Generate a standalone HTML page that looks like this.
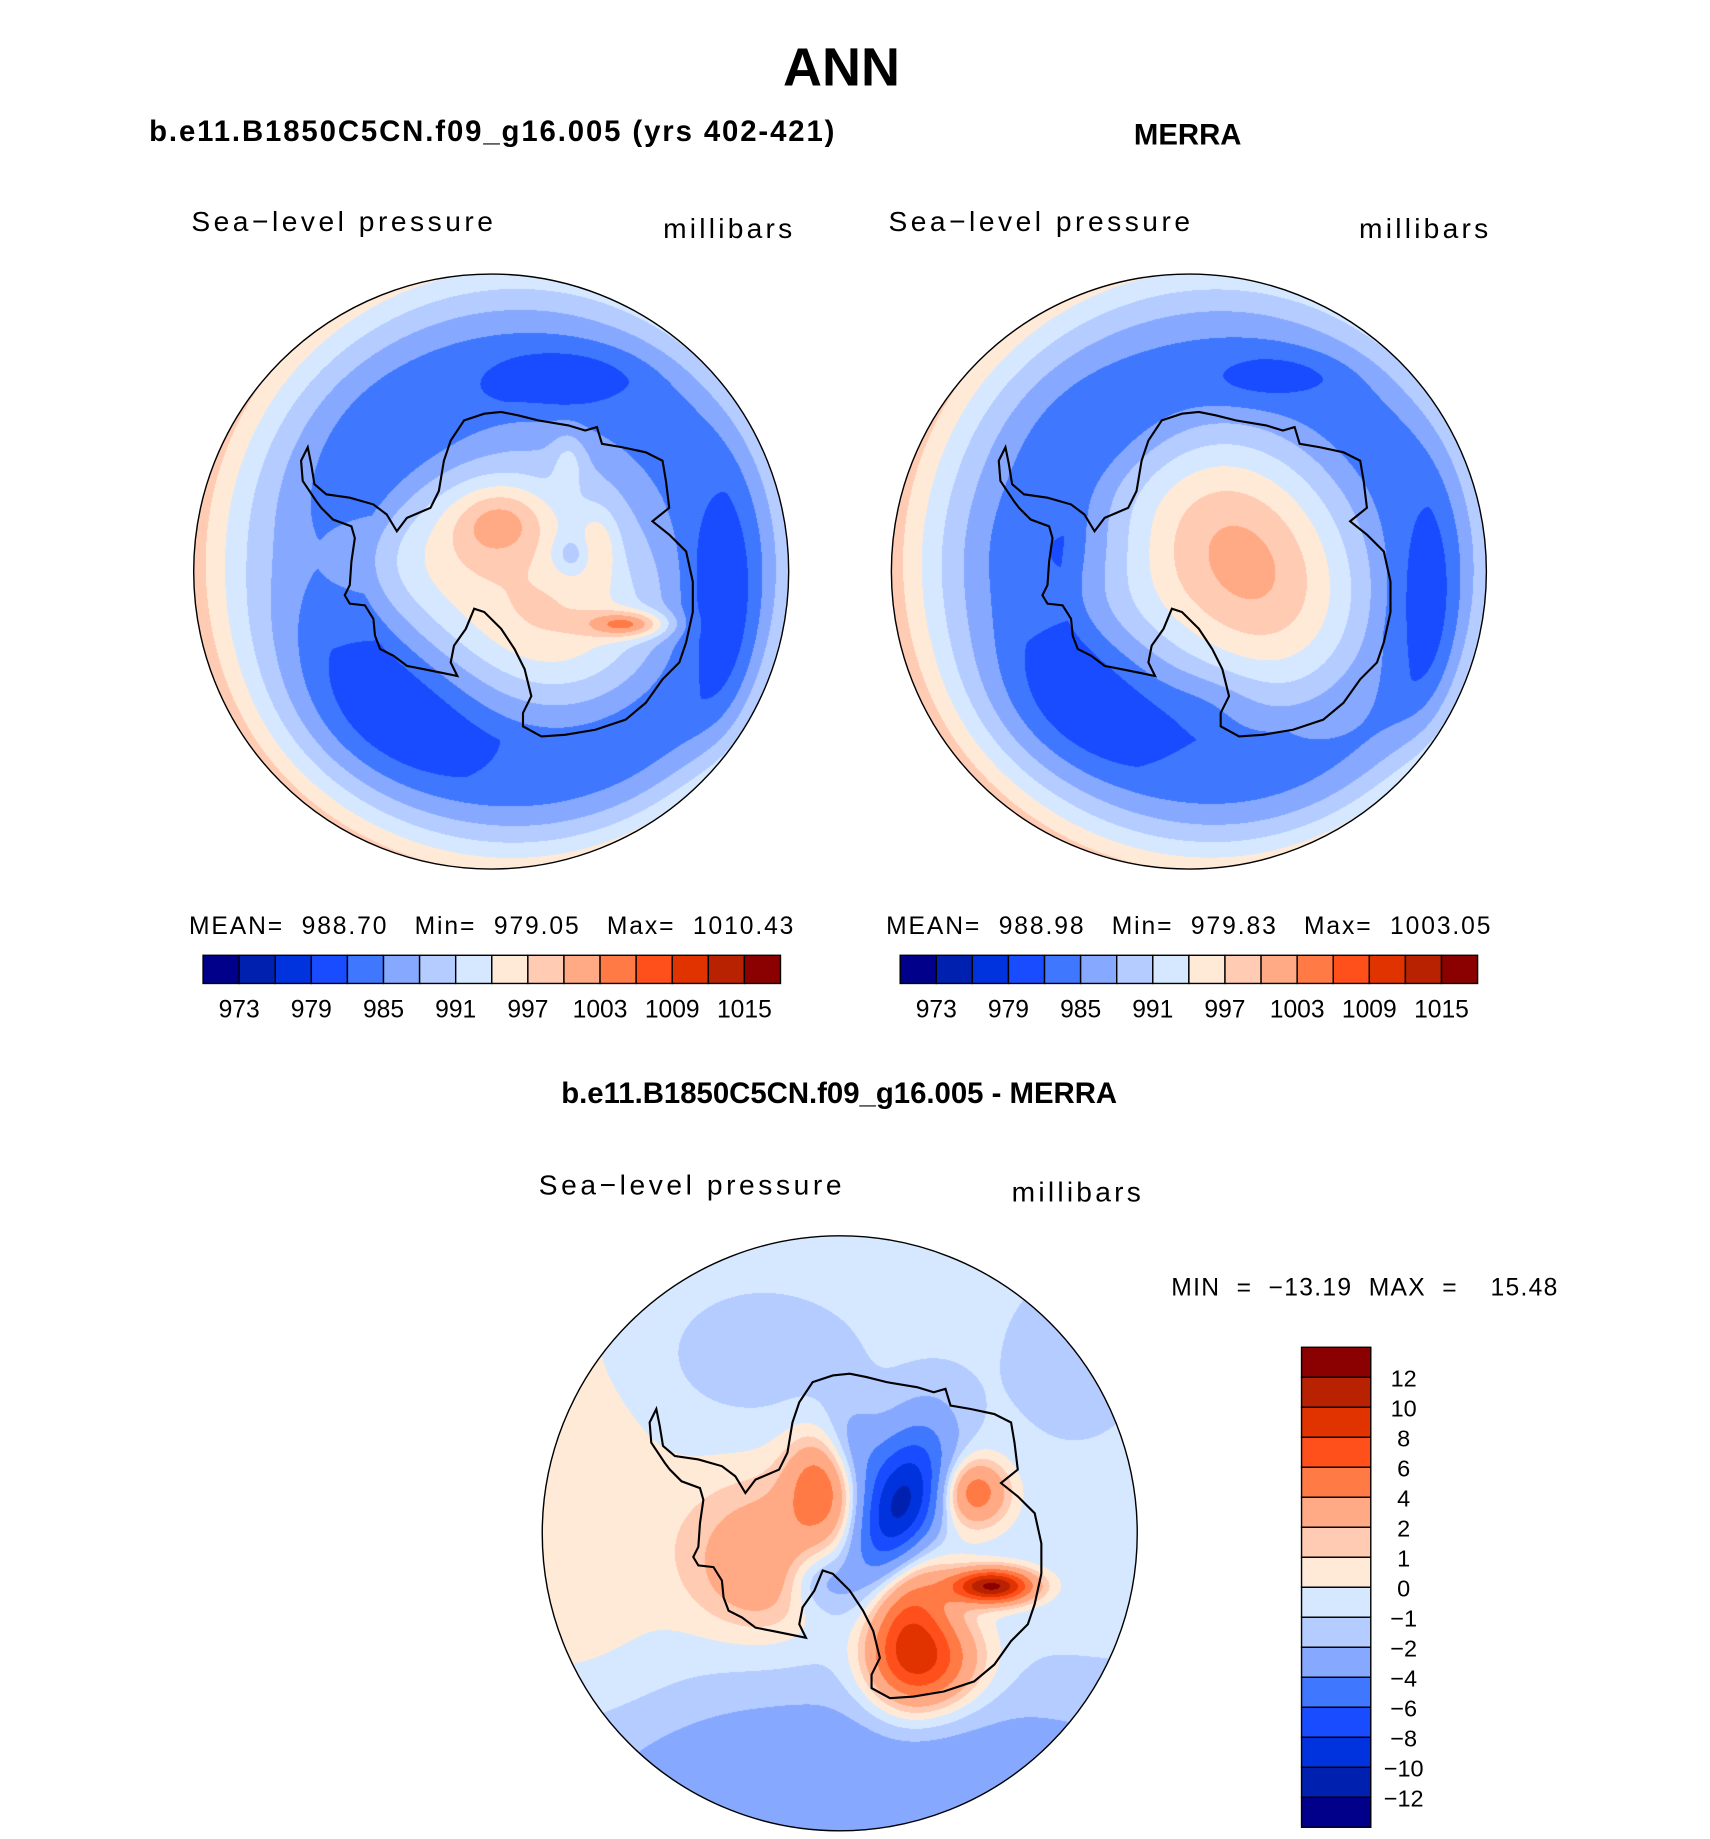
<!DOCTYPE html>
<html><head><meta charset="utf-8">
<style>
html,body{margin:0;padding:0;background:#fff;}
#wrap{position:relative;width:1710px;height:1839px;overflow:hidden;background:#fff;}
canvas{position:absolute;}
svg{position:absolute;left:0;top:0;}
text{font-family:"Liberation Sans",sans-serif;fill:#000;white-space:pre;}
.b{font-weight:bold;}
.t{font-size:24px;}
.s{font-size:21px;}
</style></head>
<body>
<div id="wrap">
<canvas id="c1"></canvas>
<canvas id="c2"></canvas>
<canvas id="c3"></canvas>
<svg id="svg" width="1710" height="1839" viewBox="0 0 1457 1567">
  <text x="717" y="73" text-anchor="middle" class="b" font-size="46">ANN</text>
  <text x="127" y="120" class="b" font-size="25" textLength="584">b.e11.B1850C5CN.f09_g16.005 (yrs 402-421)</text>
  <text x="1012" y="123" text-anchor="middle" class="b" font-size="25">MERRA</text>
  <text x="163" y="197" class="t" textLength="257">Sea−level pressure</text>
  <text x="565" y="203" class="t" textLength="110">millibars</text>
  <text x="757" y="197" class="t" textLength="257">Sea−level pressure</text>
  <text x="1158" y="203" class="t" textLength="110">millibars</text>
  <text x="161" y="796" class="s" textLength="515" xml:space="preserve">MEAN=  988.70   Min=  979.05   Max=  1010.43</text>
  <text x="755" y="796" class="s" textLength="515" xml:space="preserve">MEAN=  988.98   Min=  979.83   Max=  1003.05</text>
  <text x="715" y="940" text-anchor="middle" class="b" font-size="25">b.e11.B1850C5CN.f09_g16.005 - MERRA</text>
  <text x="459" y="1018" class="t" textLength="258">Sea−level pressure</text>
  <text x="862" y="1024" class="t" textLength="110">millibars</text>
  <text x="998" y="1104" class="s" textLength="329" xml:space="preserve">MIN  =  −13.19  MAX  =    15.48</text>
  <g id="cb1"></g>
  <g id="cb2"></g>
  <g id="cb3"></g>
  <g id="outlines"></g>
</svg>
</div>
<script>
// ---- colour scale and contour levels ----
const colors = ["#00008B","#0020B0","#0033DD","#1A4CFF","#3F77FF","#86A9FF","#B4CCFF","#D6E8FF","#FFEAD8","#FFCBB3","#FFAA84","#FF7A45","#FF4F1A","#E03300","#B82200","#8B0000"];
const absLevels = [973,976,979,982,985,988,991,994,997,1000,1003,1006,1009,1012,1015];
const absLabels = ["973","","979","","985","","991","","997","","1003","","1009","","1015"];
const diffLevels = [-12,-10,-8,-6,-4,-2,-1,0,1,2,4,6,8,10,12];
const diffLabels = ["−12","−10","−8","−6","−4","−2","−1","0","1","2","4","6","8","10","12"];

// ---- field anomaly blobs: [x, y, amplitude, sx, sy, rotation] (display units, rel. to pole) ----
const modelBlobs = [
  [-68,113,-4.5,70,50,0],[197,40,-4,22,80,0],[62,-165,-3.5,45,18,0],[-60,-120,-1.5,60,40,0],
  [-80,-10,3,60,35,0],[8.6,-43,8,28,22,0],[117,45,12,24,8,0],
  [57,49,6,62,45,0],[69,-14,-5,12,12,0],[91,-23,5,12,22,0],[66,-94,4,10,18,0],[-30,-40,1,30,30,0]
];
const merraBlobs = [
  [-70,105,-4.5,65,45,0],[202,40,-4,20,75,0],[67,-165,-3.5,42,15,0],[-60,-120,-1.5,60,40,0],
  [57,-5,9,55,85,-0.55],[-90,-20,-2,45,30,0],[20,110,-2,30,20,0]
];
const diffBlobs = [
  [-230,-20,1.3,70,200,0],[0,210,-2.6,260,60,0],[-90,-150,-1,80,45,0],[200,-150,-0.8,50,60,0],
  [-60,10,3.4,50,45,0],[-70,45,1.5,35,30,0],[-10,-45,7.5,22,30,0],[50,-15,-12,24,50,0.3],[5,-60,-5,20,30,0],
  [55,60,7,25,50,0],[130,45,13,24,10,0],[75,110,7,32,28,0],[115,-35,6,20,20,0],[-20,40,-3,20,20,0]
];

// ---- coastline (reference crop coordinates) ----
const coastX = [75,85,95,130,200,270,310,340,370,440,465,480,500,540,600,650,700,760,850,900,935,950,1010,1080,1130,1140,1150,1100,1150,1200,1220,1220,1200,1180,1130,1080,1020,930,840,770,715,715,740,720,690,650,600,570,545,510,500,520,470,420,370,330,290,275,270,245,200,185,200,205,215,205,150,115,100,60,55,75];
const coastY = [160,210,270,300,310,330,360,410,370,340,290,200,140,80,60,55,65,80,95,110,100,150,160,175,200,260,340,380,420,470,560,650,740,800,850,920,970,1000,1015,1020,990,950,900,820,760,700,650,640,700,750,800,840,830,820,810,780,760,720,670,630,625,600,570,500,430,395,375,340,320,260,200,160];

const S = 1710/1457;
const CS = 1710/1470;
const R = 253.5;
const maps = [
  {id:"c1", cx:418.5, cy:487, kind:"model", blobs:modelBlobs, levels:absLevels},
  {id:"c2", cx:1013, cy:487, kind:"merra", blobs:merraBlobs, levels:absLevels},
  {id:"c3", cx:715.5, cy:1306.5, kind:"diff", blobs:diffBlobs, levels:diffLevels}
];

function blobSum(blobs,x,y){
  let s=0;
  for(const b of blobs){
    const c=Math.cos(b[5]), sn=Math.sin(b[5]);
    const dx=x-b[0], dy=y-b[1];
    const u=dx*c+dy*sn, v=-dx*sn+dy*c;
    s+=b[2]*Math.exp(-0.5*((u/b[3])**2+(v/b[4])**2));
  }
  return s;
}
function baseAbs(x,y){
  const d=Math.hypot(x,y)/R;
  const th=Math.atan2(y,x);
  const dt=0.66+0.13*Math.cos(th);
  const edge=995-4*Math.cos(th)+1.5*Math.sin(th);
  const trough=983.6;
  const w=0.05;
  if(d>dt+w) return trough+(edge-trough)*Math.pow((d-dt-w)/(1-dt-w),1.4);
  if(d>dt-0.1) return trough;
  const di=dt-0.1;
  return trough+(993-trough)*(1-(d/di)**2);
}
function field(m,x,y){
  if(m.kind==="diff") return -0.6+blobSum(m.blobs,x,y);
  return baseAbs(x,y)+blobSum(m.blobs,x,y);
}
function colorIndex(levels,v){
  let i=0; while(i<levels.length && v>=levels[i]) i++; return i;
}
function hex(c){return [parseInt(c.substr(1,2),16),parseInt(c.substr(3,2),16),parseInt(c.substr(5,2),16)];}
const rgb = colors.map(hex);

for(const m of maps){
  const cv=document.getElementById(m.id);
  const size=Math.ceil(2*R*S)+4;
  const left=Math.round(m.cx*S-size/2), top=Math.round(m.cy*S-size/2);
  cv.width=size; cv.height=size;
  cv.style.left=left+"px"; cv.style.top=top+"px";
  const ctx=cv.getContext("2d");
  const img=ctx.createImageData(size,size);
  for(let j=0;j<size;j++){
    for(let i=0;i<size;i++){
      const x=(left+i+0.5)/S-m.cx, y=(top+j+0.5)/S-m.cy;
      if(x*x+y*y>R*R) continue;
      const k=colorIndex(m.levels,field(m,x,y));
      const o=(j*size+i)*4, c=rgb[k];
      img.data[o]=c[0]; img.data[o+1]=c[1]; img.data[o+2]=c[2]; img.data[o+3]=255;
    }
  }
  ctx.putImageData(img,0,0);
}

const NS="http://www.w3.org/2000/svg";
const og=document.getElementById("outlines");
const names=["model","merra","difference"];
maps.forEach((m,idx)=>{
  let d="";
  for(let k=0;k<coastX.length;k++){
    const px=(280+coastX[k]/3)/CS-418.5+m.cx, py=(390+coastY[k]/3)/CS-487+m.cy;
    d+=(k?"L":"M")+px.toFixed(1)+","+py.toFixed(1);
  }
  const p=document.createElementNS(NS,"path");
  p.setAttribute("d",d+"Z");
  p.setAttribute("fill","none"); p.setAttribute("stroke","#000"); p.setAttribute("stroke-width","1.8");
  
  
  og.appendChild(p);
  const c=document.createElementNS(NS,"circle");
  c.setAttribute("cx",m.cx); c.setAttribute("cy",m.cy); c.setAttribute("r",R);
  c.setAttribute("fill","none"); c.setAttribute("stroke","#000"); c.setAttribute("stroke-width","1.2");
  
  
  og.appendChild(c);
});

function hColorbar(gid,x0,y0,w,h,labels){
  const g=document.getElementById(gid);
  const bw=w/colors.length;
  colors.forEach((col,i)=>{
    const r=document.createElementNS(NS,"rect");
    r.setAttribute("x",x0+i*bw); r.setAttribute("y",y0); r.setAttribute("width",bw); r.setAttribute("height",h);
    r.setAttribute("fill",col); r.setAttribute("stroke","#000"); r.setAttribute("stroke-width","1.2");
    
    
    g.appendChild(r);
  });
  labels.forEach((lab,i)=>{
    if(!lab) return;
    const t=document.createElementNS(NS,"text");
    t.setAttribute("x",x0+(i+1)*bw); t.setAttribute("y",y0+h+29);
    t.setAttribute("text-anchor","middle"); t.setAttribute("font-size","21");
    t.textContent=lab;
    
    
    g.appendChild(t);
  });
}
hColorbar("cb1",173,814,492,24,absLabels);
hColorbar("cb2",767,814,492,24,absLabels);

(function(){
  const g=document.getElementById("cb3");
  const x0=1109,y0=1148,w=59,h=409,n=colors.length,bh=h/n;
  for(let i=0;i<n;i++){
    const r=document.createElementNS(NS,"rect");
    r.setAttribute("x",x0); r.setAttribute("y",y0+i*bh); r.setAttribute("width",w); r.setAttribute("height",bh);
    r.setAttribute("fill",colors[n-1-i]); r.setAttribute("stroke","#000"); r.setAttribute("stroke-width","1.2");
    
    
    g.appendChild(r);
  }
  const L=diffLabels.length;
  for(let i=0;i<L;i++){
    const t=document.createElementNS(NS,"text");
    t.setAttribute("x",1196); t.setAttribute("y",y0+(i+1)*bh+8);
    t.setAttribute("text-anchor","middle"); t.setAttribute("font-size","20");
    t.textContent=diffLabels[L-1-i];
    
    
    g.appendChild(t);
  }
})();
</script>
</body></html>
